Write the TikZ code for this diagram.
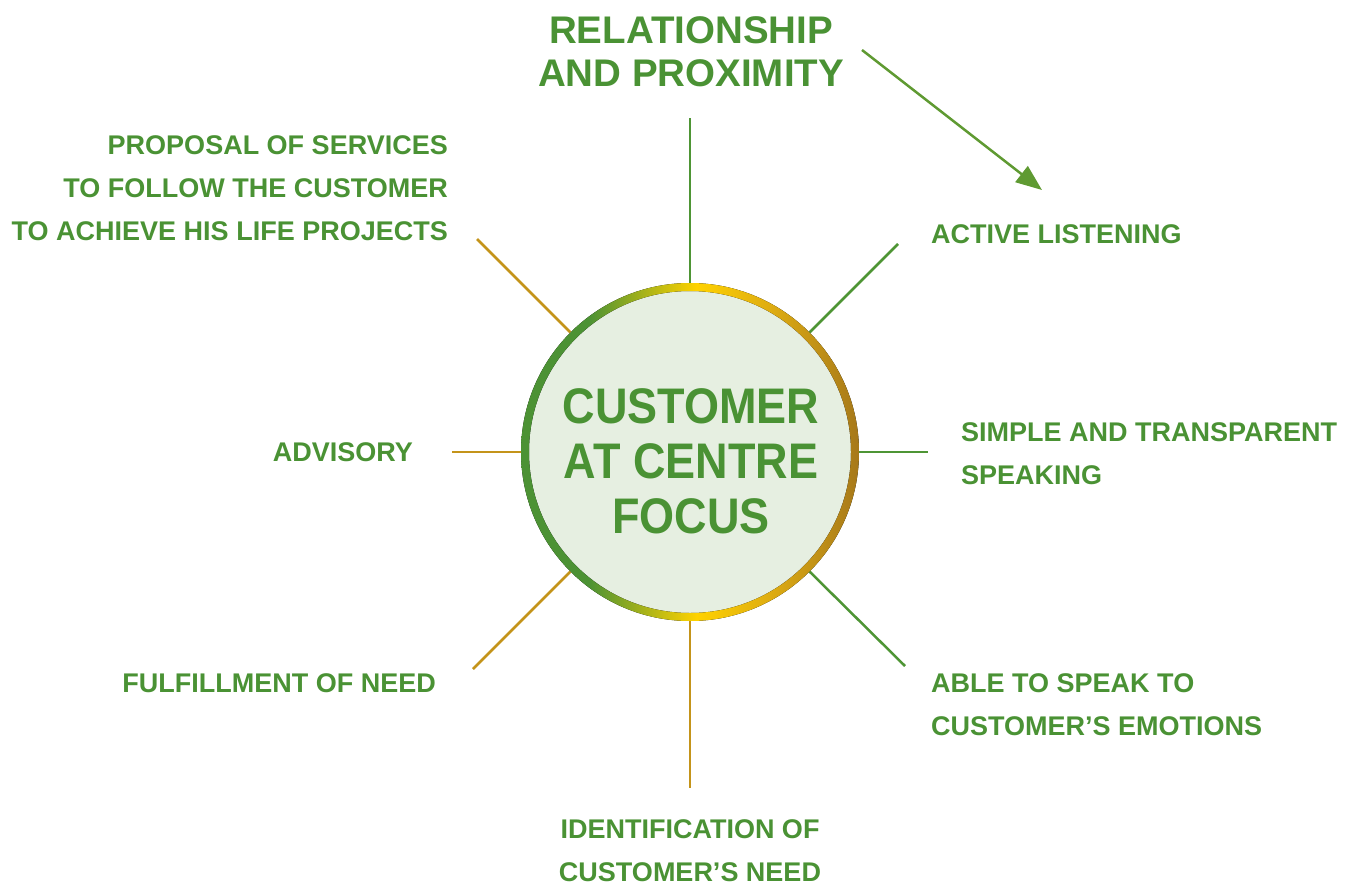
\documentclass[tikz,border=0pt]{standalone}
\usepackage{fontspec}
\setmainfont{Liberation Sans}
\newfontfamily\ctrfont{Liberation Sans}[FakeStretch=0.9]
\usetikzlibrary{arrows.meta}
\definecolor{tgreen}{RGB}{74,146,52}
\definecolor{lgreen}{RGB}{78,149,53}
\definecolor{agreen}{RGB}{95,154,50}
\definecolor{lgold}{RGB}{196,148,26}
\definecolor{cfill}{RGB}{230,239,225}
\definecolor{rgreen}{RGB}{76,146,52}
\definecolor{ryellow}{RGB}{255,210,0}
\definecolor{rgold}{RGB}{222,172,18}
\definecolor{rbrown}{RGB}{166,120,26}
\pgfdeclarehorizontalshading{ringshade}{100bp}{color(0bp)=(rgreen); color(25bp)=(rgreen); color(35bp)=(rgreen); color(51bp)=(ryellow); color(62bp)=(rgold); color(75bp)=(rbrown); color(100bp)=(rbrown)}
\tikzset{
  lbl/.style={inner sep=0pt, text=tgreen, font=\fontsize{27}{43}\selectfont\bfseries},
  ttl/.style={inner sep=0pt, text=tgreen, align=center, font=\fontsize{38.5}{43}\selectfont\bfseries},
  ctr/.style={inner sep=0pt, text=tgreen, align=center, font=\fontsize{50}{55}\selectfont\ctrfont\bfseries},
  gline/.style={draw=lgreen, line width=2.5pt},
  oline/.style={draw=lgold, line width=2.5pt},
}
\begin{document}
\begin{tikzpicture}[x=1pt,y=-1pt]
\useasboundingbox (0,0) rectangle (1349,886);
% central circle
\node[circle, minimum size=338pt, inner sep=0pt, fill=cfill] (c) at (690,452) {};
\fill[even odd rule, shading=ringshade] (c.center) circle[radius=169pt] (c.center) circle[radius=161pt];
\node[ctr, anchor=north] (ct) at (691,388) {CUSTOMER\\AT CENTRE\\FOCUS};
% outer ends
\coordinate (pn) at (690,118);
\coordinate (ps) at (690,788);
\coordinate (pw) at (452,452);
\coordinate (pe) at (928,452);
\coordinate (pnw) at (477,239);
\coordinate (pne) at (898,244);
\coordinate (psw) at (473,669);
\coordinate (pse) at (905,666);
\draw[gline] (c.90) -- (pn);
\draw[gline] (c.0) -- (pe);
\draw[gline] (c.45) -- (pne);
\draw[gline] (c.-45) -- (pse);
\draw[oline] (c.180) -- (pw);
\draw[oline] (c.135) -- (pnw);
\draw[oline] (c.-135) -- (psw);
\draw[oline] (c.-90) -- (ps);
% labels
\node[ttl, anchor=north] (rel) at (691,16) {RELATIONSHIP\\AND PROXIMITY};
\node[lbl, anchor=north east, align=right] (prop) at (448,135) {PROPOSAL OF SERVICES\\TO FOLLOW THE CUSTOMER\\TO ACHIEVE HIS LIFE PROJECTS};
\node[lbl, anchor=base west] (act) at (931,243) {ACTIVE LISTENING};
\node[lbl, anchor=north west, align=left] (simp) at (961,422) {SIMPLE AND TRANSPARENT\\SPEAKING};
\node[lbl, anchor=base east] (adv) at (413,461) {ADVISORY};
\node[lbl, anchor=base east] (ful) at (436,692) {FULFILLMENT OF NEED};
\node[lbl, anchor=north west, align=left] (able) at (931,673) {ABLE TO SPEAK TO\\CUSTOMER’S EMOTIONS};
\node[lbl, anchor=north, align=center] (ident) at (690,819) {IDENTIFICATION OF\\CUSTOMER’S NEED};
% arrow
\coordinate (as) at (862,50);
\coordinate (ae) at (1042,190);
\draw[agreen, line width=2.5pt, -{Triangle[length=26pt,width=20pt]}] (as) -- (ae);
\end{tikzpicture}
\end{document}
